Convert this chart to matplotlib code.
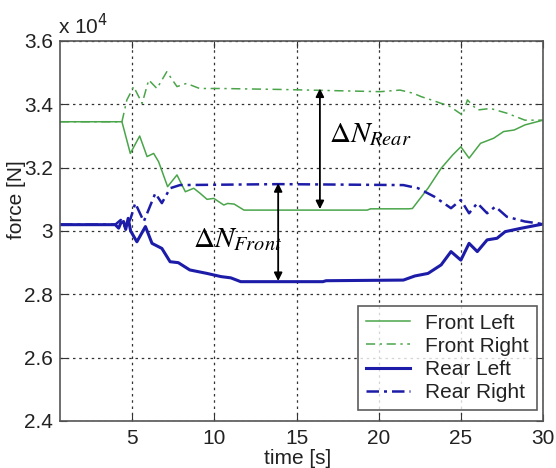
import matplotlib
matplotlib.use("Agg")
import matplotlib.pyplot as plt

plt.rcParams['font.family'] = ['Liberation Sans', 'DejaVu Sans']
plt.rcParams['mathtext.fontset'] = 'stix'

# ---- data (force in units of 1e4 N) ----
fl_t = [0.6, 4.37, 4.88, 5.45, 5.9, 6.3, 6.6, 7.15, 7.72, 8.23, 8.74, 9.15, 9.55, 9.96, 10.57, 10.8, 11.2, 11.8,
        15.0, 19.3, 19.5, 21.8, 22.05, 23.0, 23.8, 24.5, 25.0, 25.5, 26.2, 27.0, 27.6, 28.25, 28.9, 30.0]
fl_v = [3.345, 3.345, 3.245, 3.300, 3.235, 3.245, 3.219, 3.140, 3.177, 3.124, 3.135, 3.118, 3.100, 3.103, 3.082, 3.087, 3.085, 3.066,
        3.066, 3.066, 3.070, 3.070, 3.071, 3.135, 3.198, 3.240, 3.266, 3.230, 3.277, 3.293, 3.314, 3.319, 3.335, 3.350]

fr_t = [0.6, 4.37, 4.67, 4.98, 5.08, 5.6, 6.0, 6.5, 7.1, 7.72, 8.3, 9.1, 10.4, 14.0, 20.1, 21.3, 22.1, 22.6,
        23.2, 23.8, 24.2, 25.1, 25.4, 26.0, 26.8, 27.8, 28.9, 30.0]
fr_v = [3.345, 3.345, 3.414, 3.445, 3.456, 3.403, 3.477, 3.450, 3.503, 3.456, 3.466, 3.450, 3.450, 3.447, 3.440, 3.445, 3.435, 3.424,
        3.414, 3.403, 3.398, 3.366, 3.414, 3.382, 3.387, 3.372, 3.350, 3.350]

rl_t = [0.6, 3.96, 4.17, 4.3, 4.47, 4.6, 4.75, 4.9, 5.28, 5.8, 6.2, 6.8, 7.3, 7.8, 8.5, 9.55, 10.4, 11.0, 11.6,
        16.6, 16.8, 21.5, 22.2, 23.0, 23.8, 24.4, 25.0, 25.5, 26.0, 26.6, 27.2, 27.7, 28.7, 30.0]
rl_v = [3.020, 3.020, 3.009, 3.025, 3.030, 3.005, 3.040, 3.000, 2.966, 3.014, 2.961, 2.945, 2.903, 2.900, 2.877, 2.866, 2.856, 2.852, 2.840,
        2.840, 2.843, 2.845, 2.858, 2.866, 2.893, 2.935, 2.908, 2.961, 2.935, 2.972, 2.977, 2.998, 3.009, 3.022]

rr_t = [0.6, 3.96, 4.3, 4.6, 4.9, 5.18, 5.7, 6.4, 6.8, 7.3, 7.9, 14.0, 21.5, 22.4, 23.4, 24.4, 25.0, 25.5,
        26.0, 26.6, 27.1, 27.8, 28.9, 30.0]
rr_v = [3.020, 3.020, 3.035, 3.010, 3.040, 3.088, 3.030, 3.119, 3.088, 3.135, 3.145, 3.148, 3.145, 3.135, 3.108, 3.072, 3.098, 3.056,
        3.088, 3.056, 3.077, 3.045, 3.030, 3.022]

x_ticks = [5, 10, 15, 20, 25, 30]
y_ticks = [2.4, 2.6, 2.8, 3.0, 3.2, 3.4, 3.6]
y_labels = ['2.4', '2.6', '2.8', '3', '3.2', '3.4', '3.6']

green = '#4aa54a'
blue = '#1c1ca8'

fig = plt.figure(figsize=(5.56, 4.68), dpi=100)
ax = fig.add_axes([60/556, 1-421/468, (543-60)/556, (421-41)/468])

ax.plot(fl_t, fl_v, color=green, lw=1.1, label='Front Left')
ax.plot(fr_t, fr_v, color=green, lw=1.1, linestyle=(0, (6, 3, 1.5, 3)), label='Front Right')
ax.plot(rl_t, rl_v, color=blue, lw=2.2, label='Rear Left')
ax.plot(rr_t, rr_v, color=blue, lw=1.8, linestyle=(0, (5, 2, 1.2, 2)), label='Rear Right')

ax.set_xlim(0.6, 30)
ax.set_ylim(2.4, 3.6)
ax.set_xticks(x_ticks)
ax.set_yticks(y_ticks)
ax.set_yticklabels(y_labels)
ax.tick_params(direction='in', top=True, right=True, labelsize=15, length=5, colors='#333333', labelcolor='#222222')
ax.tick_params(axis='x', pad=6)
ax.tick_params(axis='y', pad=5)
ax.grid(True, linestyle=(0, (2, 3)), color='#333333', lw=0.9)
for s in ax.spines.values():
    s.set_color('#555555')
    s.set_linewidth(1.2)

# annotations
ax.annotate('', xy=(16.42, 3.45), xytext=(16.42, 3.069),
            arrowprops=dict(arrowstyle='<|-|>', color='black', lw=1.3, mutation_scale=12, shrinkA=0, shrinkB=0))
ax.annotate('', xy=(13.88, 3.151), xytext=(13.88, 2.842),
            arrowprops=dict(arrowstyle='<|-|>', color='black', lw=1.3, mutation_scale=12, shrinkA=0, shrinkB=0))
ax.text(16.95, 3.305, r'$\Delta N_{Rear}$', fontsize=21, ha='left', va='center')
ax.text(8.7, 2.975, r'$\Delta N_{Front}$', fontsize=21, ha='left', va='center')

leg = ax.legend(loc='lower right', fontsize=15, frameon=True, fancybox=False, edgecolor='#333333',
                handlelength=2.1, handletextpad=0.75, labelspacing=0.2, borderpad=0.38,
                borderaxespad=0.0, bbox_to_anchor=(0.9876, 0.029))
leg.get_frame().set_linewidth(1.2)
for t in leg.get_texts():
    t.set_color('#222222')

fig.text(298/556, 1-458/468, 'time [s]', ha='center', va='center', fontsize=15, color='#222222')
fig.text(17/556, 1-200/468, 'force [N]', ha='center', va='center', rotation=90, fontsize=15, color='#222222')
fig.text(58/556, 1-26/468, r'x 10$^{4}$', ha='left', va='center', fontsize=15, color='#222222',
         math_fontfamily='dejavusans')

fig.savefig('out.png', dpi=100)
